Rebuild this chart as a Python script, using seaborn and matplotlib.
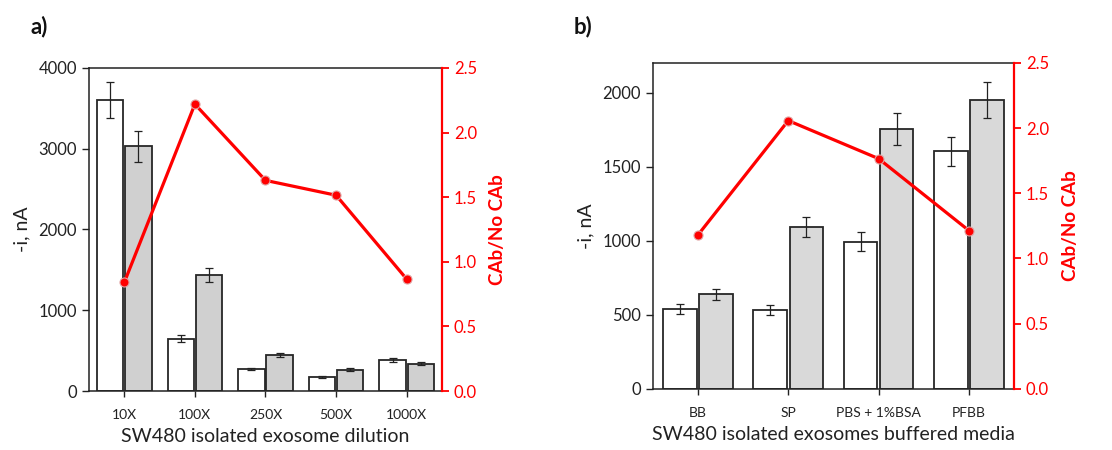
import matplotlib
matplotlib.use("Agg")
import matplotlib.pyplot as plt
import seaborn as sns
import pandas as pd
import numpy as np

# ---- data ----
dil_cats = ["10X", "100X", "250X", "500X", "1000X"]
dil_nocab = [3600, 649, 273, 174, 389]
dil_nocab_err = [220, 40, 14, 8, 25]
dil_cab = [3028, 1435, 447, 265, 339]
dil_cab_err = [190, 90, 30, 15, 20]
dil_ratio = [0.84, 2.22, 1.63, 1.515, 0.866]

med_cats = ["BB", "SP", "PBS + 1%BSA", "PFBB"]
med_nocab = [538, 532, 993, 1604]
med_nocab_err = [36, 35, 63, 99]
med_cab = [637, 1092, 1757, 1950]
med_cab_err = [40, 68, 108, 120]
med_ratio = [1.18, 2.058, 1.766, 1.214]

sns.set_style("ticks")
plt.rcParams["font.family"] = ["Lato", "DejaVu Sans"]

fig = plt.figure(figsize=(11.12, 4.5), dpi=100)


def panel(rect, cats, nocab, nocab_err, cab, cab_err, ratio, ymax, yticks,
          xlabel, gray, letter, letter_xy):
    ax = fig.add_axes(rect)
    df = pd.DataFrame({
        "cat": cats * 2,
        "val": list(nocab) + list(cab),
        "grp": ["No CAb"] * len(cats) + ["CAb"] * len(cats),
    })
    sns.barplot(data=df, x="cat", y="val", hue="grp", order=cats,
                hue_order=["No CAb", "CAb"],
                palette={"No CAb": "white", "CAb": gray},
                edgecolor="#262626", linewidth=1.3, width=0.8, gap=0.07,
                errorbar=None, legend=False, ax=ax)
    # error bars at the bar centres
    patches = sorted(ax.patches, key=lambda p: p.get_x())
    xs = [p.get_x() + p.get_width() / 2 for p in patches]
    vals, errs = [], []
    for i in range(len(cats)):
        vals += [nocab[i], cab[i]]
        errs += [nocab_err[i], cab_err[i]]
    ax.errorbar(xs, vals, yerr=errs, fmt="none", ecolor="#222222",
                elinewidth=0.9, capsize=3.2, capthick=0.9, zorder=5)
    ax.set_xlim(-0.5, len(cats) - 0.5)
    ax.set_ylim(0, ymax)
    ax.set_yticks(yticks)
    ax.set_ylabel("-i, nA", fontsize=14, color="#222222", labelpad=6)
    ax.tick_params(axis="y", labelsize=12, colors="#222222", length=5,
                   direction="out", width=1)
    ax.tick_params(axis="x", labelsize=10, colors="#222222", length=4,
                   direction="out", width=1, pad=9)
    for s in ["left", "bottom", "top"]:
        ax.spines[s].set_visible(True)
        ax.spines[s].set_color("#222222")
        ax.spines[s].set_linewidth(1.1)
    ax.spines["right"].set_visible(False)

    ax2 = ax.twinx()
    sns.pointplot(x=cats, y=ratio, order=cats, color="#ff0000", ax=ax2,
                  markers="o", markersize=6.5, linewidth=2.3,
                  markeredgecolor="#e0a0a0", markeredgewidth=0.8,
                  errorbar=None)
    ax2.set_xlim(-0.5, len(cats) - 0.5)
    ax2.set_ylim(0, 2.5)
    ax2.set_yticks([0, 0.5, 1.0, 1.5, 2.0, 2.5])
    ax2.set_yticklabels(["0.0", "0.5", "1.0", "1.5", "2.0", "2.5"])
    ax2.tick_params(axis="y", labelsize=12, colors="#ff0000", length=5,
                    direction="out", width=1.3)
    ax2.set_ylabel("CAb/No CAb", fontsize=13.5, color="#ff0000",
                   fontweight="bold", labelpad=9)
    for s in ["left", "bottom", "top"]:
        ax2.spines[s].set_visible(False)
    ax2.spines["right"].set_visible(True)
    ax2.spines["right"].set_color("#ff0000")
    ax2.spines["right"].set_linewidth(1.6)
    ax2.set_xlabel("")
    ax.set_xlabel(xlabel, fontsize=14, color="#222222", labelpad=5)
    fig.text(letter_xy[0], letter_xy[1], letter, fontsize=16,
             fontweight="bold", color="#111111", ha="left", va="center")
    return ax, ax2


panel([0.080, 0.131, 0.3175, 0.718], dil_cats, dil_nocab, dil_nocab_err,
      dil_cab, dil_cab_err, dil_ratio, 4000, [0, 1000, 2000, 3000, 4000],
      "SW480 isolated exosome dilution", "#d0d0d0", "a)", (0.027, 0.94))

panel([0.587, 0.136, 0.325, 0.724], med_cats, med_nocab, med_nocab_err,
      med_cab, med_cab_err, med_ratio, 2200, [0, 500, 1000, 1500, 2000],
      "SW480 isolated exosomes buffered media", "#d9d9d9", "b)", (0.516, 0.94))

fig.savefig("out.png", dpi=100)
